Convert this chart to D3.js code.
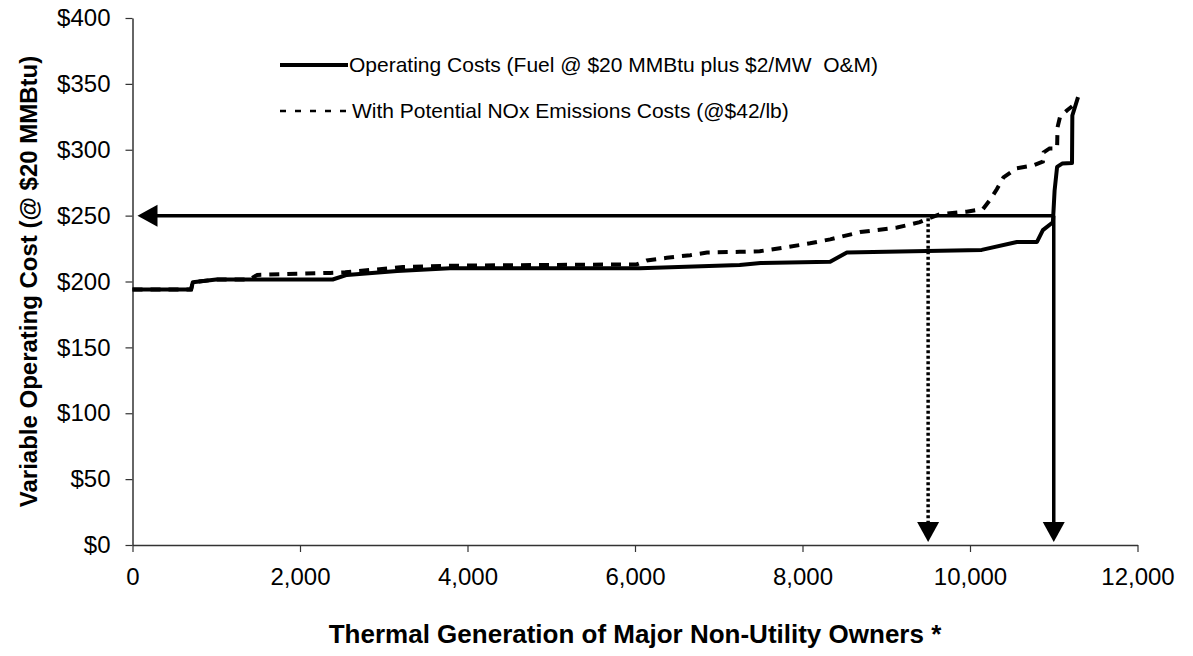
<!DOCTYPE html>
<html>
<head>
<meta charset="utf-8">
<script src="https://cdn.jsdelivr.net/npm/d3@7"></script>
<style>
body { margin: 0; background: #fff; }
text { font-family: "Liberation Sans", Arial, sans-serif; fill: #000; }
</style>
</head>
<body>
<script>
// operating cost curve (fuel @ $20 + O&M), MW vs $
var opMW   = [0, 700, 720, 1000, 2390, 2560, 3160, 3790, 6060, 7250, 7500, 8330, 8530, 9000, 10140, 10560, 10800, 10870, 10990, 11010, 11040, 11100, 11218, 11222, 11290];
var opCost = [194, 194, 199.5, 201.5, 201.5, 205, 208, 210, 210, 212.5, 214, 215, 222, 222.6, 224, 230, 230, 239, 245, 269, 287, 289.5, 290, 326, 340];

// with NOx emission costs
var noxMW   = [0, 700, 720, 1000, 1400, 1490, 2360, 2540, 3230, 3790, 6020, 6140, 6380, 6660, 6860, 7250, 7490, 7810, 8090, 8330, 8690, 9130, 9400, 9510, 9640, 9960, 10155, 10240, 10320, 10400, 10560, 10750, 10870, 10880, 10950, 11040, 11045, 11075, 11160, 11220];
var noxCost = [194, 194, 199.5, 201.5, 201.5, 205, 206.5, 207, 211, 212, 213, 216, 218, 220, 222, 222.5, 223, 226, 229, 232, 237.5, 241, 245, 248, 251, 253, 255, 262, 270, 279, 286, 288, 291, 298, 301, 301, 317, 325, 330, 333];

var xTicks = [0, 2000, 4000, 6000, 8000, 10000, 12000];
var yTicks = [0, 50, 100, 150, 200, 250, 300, 350, 400];

// arrows: price level and the two MW read-offs
var priceLevel = 250;
var readOffMW = [9500, 11000];
var readOffStart = [248, 250];

var legendNames = ["Operating Costs (Fuel @ $20 MMBtu plus $2/MW  O&M)", "With Potential NOx Emissions Costs (@$42/lb)"];

var width = 1193, height = 656;

var svg = d3.select("body").append("svg")
	.attr("width", width)
	.attr("height", height);

var x = d3.scaleLinear().domain([0, 12000]).range([132.5, 1137.5]);
var y = d3.scaleLinear().domain([0, 400]).range([545, 18]);

var xAxis = d3.axisBottom(x)
	.tickValues(xTicks)
	.tickSize(7)
	.tickSizeOuter(0)
	.tickPadding(13)
	.tickFormat(function(d){ return d3.format(",")(d); });

var yAxis = d3.axisLeft(y)
	.tickValues(yTicks)
	.tickSize(7)
	.tickSizeOuter(0)
	.tickPadding(15)
	.tickFormat(function(d){ return "$" + d; });

var gx = svg.append("g")
	.attr("transform", "translate(0," + y(0) + ")")
	.call(xAxis);

var gy = svg.append("g")
	.attr("transform", "translate(" + x(0) + ",0)")
	.call(yAxis);

[gx, gy].forEach(function(g){
	g.select(".domain").attr("stroke", "#333").attr("stroke-width", 1.5);
	g.selectAll(".tick line").attr("stroke", "#333").attr("stroke-width", 1.2);
	g.selectAll(".tick text")
		.style("font-family", "'Liberation Sans', Arial, sans-serif")
		.style("font-size", "24px")
		.attr("fill", "#000");
});
gx.selectAll(".tick text").attr("dy", "0.85em");

// axis titles
svg.append("text")
	.attr("x", (x(0) + x(12000)) / 2)
	.attr("y", 643)
	.attr("text-anchor", "middle")
	.style("font-size", "26px")
	.style("font-weight", "bold")
	.text("Thermal Generation of Major Non-Utility Owners *");

svg.append("text")
	.attr("transform", "translate(37," + ((y(0) + y(400)) / 2) + ") rotate(-90)")
	.attr("text-anchor", "middle")
	.style("font-size", "24px")
	.style("font-weight", "bold")
	.text("Variable Operating Cost (@ $20 MMBtu)");

var line = d3.line()
	.x(function(d){ return x(d[0]); })
	.y(function(d){ return y(d[1]); });

var opData = d3.zip(opMW, opCost);
var noxData = d3.zip(noxMW, noxCost);

svg.append("path")
	.datum(noxData)
	.attr("fill", "none")
	.attr("stroke", "#000")
	.attr("stroke-width", 4)
	.attr("stroke-dasharray", "10,8")
	.attr("d", line);

svg.append("path")
	.datum(opData)
	.attr("fill", "none")
	.attr("stroke", "#000")
	.attr("stroke-width", 4)
	.attr("stroke-linejoin", "round")
	.attr("d", line);

// arrows
var headLen = 20, headHalf = 11;

svg.append("line")
	.attr("x1", x(readOffMW[1])).attr("x2", x(0) + headLen)
	.attr("y1", y(priceLevel)).attr("y2", y(priceLevel))
	.attr("stroke", "#000").attr("stroke-width", 3.5);

var hp = d3.path();
hp.moveTo(x(0) + 5, y(priceLevel));
hp.lineTo(x(0) + 5 + headLen, y(priceLevel) - headHalf);
hp.lineTo(x(0) + 5 + headLen, y(priceLevel) + headHalf);
hp.closePath();
svg.append("path").attr("d", hp.toString()).attr("fill", "#000");

readOffMW.forEach(function(mw, i){
	svg.append("line")
		.attr("x1", x(mw)).attr("x2", x(mw))
		.attr("y1", y(readOffStart[i])).attr("y2", y(0) - 3 - headLen)
		.attr("stroke", "#000")
		.attr("stroke-width", 3.5)
		.attr("stroke-dasharray", i == 0 ? "3,2.5" : null);
	var p = d3.path();
	p.moveTo(x(mw), y(0) - 3);
	p.lineTo(x(mw) - headHalf, y(0) - 3 - headLen);
	p.lineTo(x(mw) + headHalf, y(0) - 3 - headLen);
	p.closePath();
	svg.append("path").attr("d", p.toString()).attr("fill", "#000");
});

// legend
var legend = svg.append("g").attr("transform", "translate(280,0)");
var legendY = [65, 111];

legendNames.forEach(function(name, i){
	legend.append("line")
		.attr("x1", 0).attr("x2", i == 0 ? 68 : 66)
		.attr("y1", legendY[i]).attr("y2", legendY[i])
		.attr("stroke", "#000")
		.attr("stroke-width", i == 0 ? 4 : 2.5)
		.attr("stroke-dasharray", i == 0 ? null : "6,9");
	legend.append("text")
		.attr("x", i == 0 ? 69 : 72)
		.attr("y", legendY[i])
		.attr("dy", "0.35em")
		.style("font-size", "21px")
		.style("white-space", "pre")
		.text(name);
});
</script>
</body>
</html>
